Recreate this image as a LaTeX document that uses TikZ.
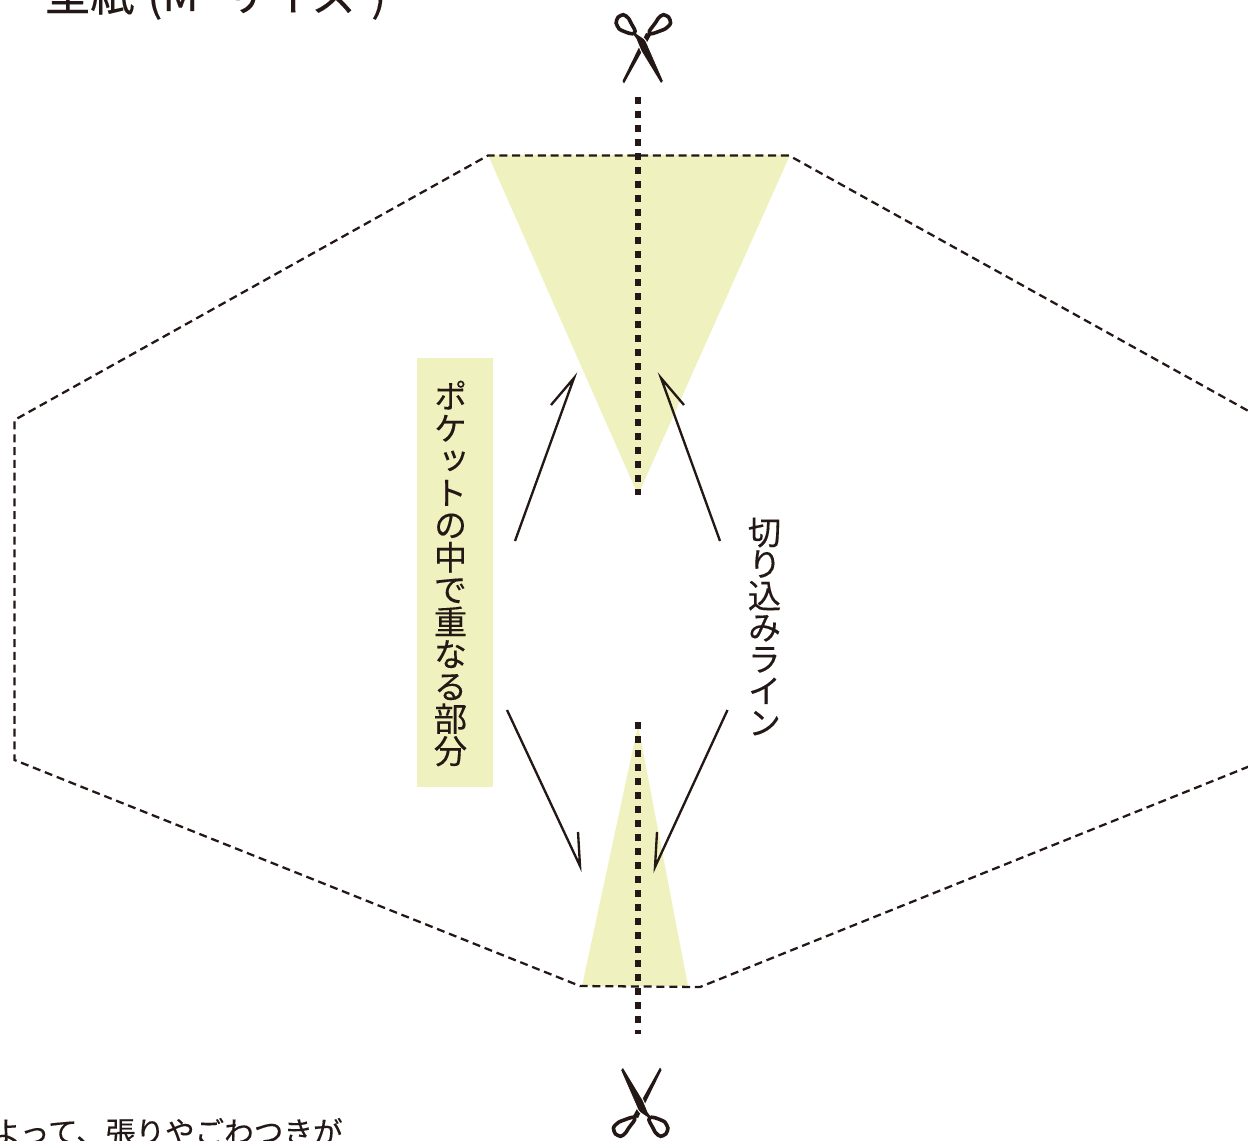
\documentclass[tikz,border=0pt]{standalone}
\usepackage{fontspec}
\newfontfamily\jp[FakeBold=0.25]{Noto Sans CJK JP}
\newfontfamily\jpv[RawFeature=+vert,FakeBold=0.25]{Noto Sans CJK JP}
\definecolor{ink}{HTML}{231815}
\definecolor{pale}{HTML}{EFF2BE}
\tikzset{
  outline/.style={draw=ink,line width=1.7pt,dash pattern=on 6pt off 3.6pt},
  cutline/.style={draw=ink,line width=4.5pt,dash pattern=on 5.4pt off 5.1pt},
  pointer/.style={draw=ink,line width=1.75pt,line join=miter},
  overlap/.style={fill=pale,draw=none},
  vtext/.style={text=ink,inner sep=0pt,align=center,font=\jpv\fontsize{25}{24.2}\selectfont},
  htext/.style={text=ink,inner sep=0pt,anchor=base west},
  ring/.style={draw=ink,line width=2.7pt,fill=none},
  blade/.style={fill=ink,draw=none},
  topblade/.style={fill=ink,draw=white,line width=.7pt}
}
\newcommand{\scissorshape}{%
  \draw[ring] plot[smooth cycle,tension=.9] coordinates {(670,20) (666,15.5) (660.7,16) (655.3,23) (649.3,33) (660,31) (668.7,26)};
  \path[blade] (624,83.5) -- (622.5,81) -- (646,33) -- (651,35) -- cycle;
  \path[topblade] (661,84) -- (663.5,81) -- (646,41) -- (644,38.5) -- (636,33) -- (633,35) -- (636,39) -- (641,51) -- cycle;
  \draw[ring] plot[smooth cycle,tension=.9] coordinates {(616.7,20) (620.7,15.5) (626,16) (631,23) (634.5,33) (623,31) (617.3,26)};
}
\begin{document}
\begin{tikzpicture}[x=.75pt,y=-.75pt]
\useasboundingbox (0,0) rectangle (1248,1141);
% overlap zones
\path[overlap] (488,155) -- (790,155) -- (638,495) -- cycle;
\path[overlap] (582,986) -- (688,986) -- (638,725) -- cycle;
\node[overlap,minimum width=57pt,minimum height=321.5pt,inner sep=0pt] (band) at (455,572.3) {};
% outline
\coordinate (o1) at (1270,423);
\coordinate (o2) at (789,155.5);
\coordinate (o3) at (488,155.5);
\coordinate (o4) at (14.5,420);
\coordinate (o5) at (14.5,760);
\coordinate (o6) at (580,986);
\coordinate (o7) at (700,987);
\coordinate (o8) at (1270,758);
\draw[outline] (o1) -- (o2) -- (o3) -- (o4) -- (o5) -- (o6) -- (o7) -- (o8);
% cut lines
\coordinate (c1) at (638,97);
\coordinate (c2) at (638,495);
\coordinate (c3) at (638,722);
\coordinate (c4) at (638,1034);
\draw[cutline] (c1) -- (c2);
\draw[cutline] (c3) -- (c4);
% pointers
\coordinate (a1) at (515,541); \coordinate (a1t) at (574,378); \coordinate (a1b) at (551,405);
\coordinate (a2) at (720,541); \coordinate (a2t) at (661,378); \coordinate (a2b) at (684,405);
\coordinate (a3) at (507,710); \coordinate (a3t) at (580,866); \coordinate (a3b) at (578,832);
\coordinate (a4) at (727.5,710); \coordinate (a4t) at (655,867); \coordinate (a4b) at (657,832);
\draw[pointer] (a1) -- (a1t) -- (a1b);
\draw[pointer] (a2) -- (a2t) -- (a2b);
\draw[pointer] (a3) -- (a3t) -- (a3b);
\draw[pointer] (a4) -- (a4t) -- (a4b);
% labels
\node[vtext] (lab1) at (450.5,573.5) {ポ\\ケ\\ッ\\ト\\の\\中\\で\\重\\な\\る\\部\\分};
\node[vtext,font=\jpv\fontsize{25}{23.8}\selectfont] (lab2) at (764.5,626.5) {切\\り\\込\\み\\ラ\\イ\\ン};
\node[htext,font=\jp\fontsize{33.5}{33.5}\selectfont] (title) at (45,11) {型紙\hspace{2pt} (M\hspace{19pt}サイズ\hspace{11pt})};
\node[htext,font=\jp\fontsize{22.2}{22.2}\selectfont] (note) at (-9,1143) {よって、張りやごわつきが};
% scissors
\scissorshape
\begin{scope}[shift={(1284,1151)},xscale=-1,yscale=-1]
\scissorshape
\end{scope}
\end{tikzpicture}
\end{document}
